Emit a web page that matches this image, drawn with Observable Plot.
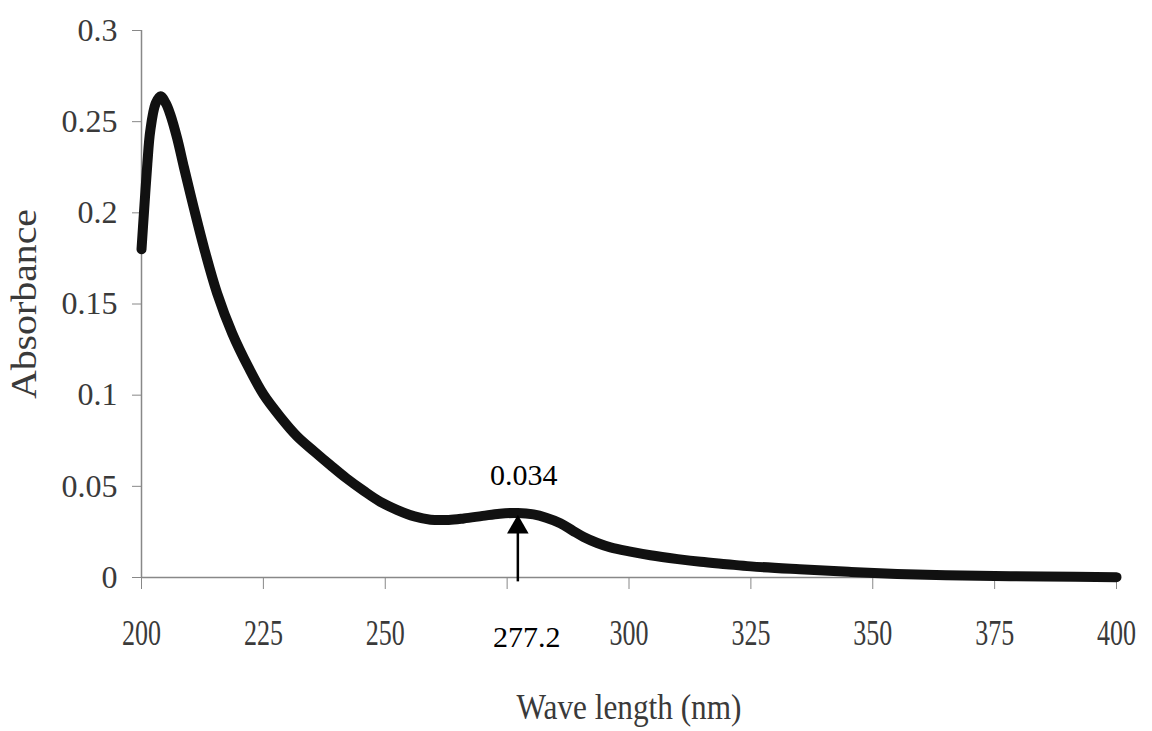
<!DOCTYPE html>
<html>
<head>
<meta charset="utf-8">
<script src="https://cdn.jsdelivr.net/npm/d3@7"></script>
<script src="https://cdn.jsdelivr.net/npm/@observablehq/plot@0.6"></script>
<style>
  html, body { margin: 0; padding: 0; background: #fff; }
  #chart svg { display: block; }
</style>
</head>
<body>
<div id="chart"></div>
<script>
// Wavelength (nm) and absorbance
const wavelength = [200, 200.5, 201.2, 201.8, 202.9, 203.9, 205.0, 205.9, 207.3, 208.7, 210.7, 212.8, 215.5, 218.6, 222, 225, 228.5, 231.9, 235.5, 238.8, 242, 245.6, 249, 252.5, 256, 259.3, 263, 266.1, 270, 273.5, 277.2, 280.4, 283, 285.9, 288.5, 290.7, 293.5, 296.2, 300, 304.4, 310, 314.7, 320, 325, 335, 345, 355, 365, 375, 385, 400];
const absorbance = [0.180, 0.200, 0.227, 0.245, 0.260, 0.264, 0.260, 0.254, 0.241, 0.225, 0.203, 0.181, 0.156, 0.134, 0.115, 0.1005, 0.088, 0.0775, 0.069, 0.0615, 0.0545, 0.0475, 0.0415, 0.037, 0.0335, 0.0317, 0.0316, 0.0324, 0.0338, 0.035, 0.0354, 0.0346, 0.0328, 0.0298, 0.0256, 0.0222, 0.0189, 0.0165, 0.0143, 0.0122, 0.0101, 0.0086, 0.0073, 0.0061, 0.0045, 0.0031, 0.0019, 0.0012, 0.0008, 0.0005, 0.0002];

const xTicks = [200, 225, 250, 275, 300, 325, 350, 375, 400];
const yTicks = [0, 0.05, 0.1, 0.15, 0.2, 0.25, 0.3];
const hiddenXTick = [275];

// Annotation of the secondary peak
const peakWavelength = [277.2];
const peakAbsorbanceLabel = ["0.034"];
const peakWavelengthLabel = ["277.2"];
const arrowFrom = [-0.0024];
const arrowTo = [0.0265];
const labelAbove = [0.056];

const data = wavelength.map((w, i) => ({w, a: absorbance[i]}));

const serif = "'Liberation Serif', 'Times New Roman', serif";

const chart = Plot.plot({
  width: 1152,
  height: 731,
  marginLeft: 141,
  marginRight: 36,
  marginTop: 30,
  marginBottom: 154,
  style: {fontFamily: serif, background: "#fff", color: "#333"},
  x: {domain: [200, 400]},
  y: {domain: [0, 0.3]},
  marks: [
    Plot.ruleY([0], {stroke: "#888", strokeWidth: 1.5}),
    Plot.ruleX([200], {stroke: "#888", strokeWidth: 1.5}),
    Plot.axisY({
      ticks: yTicks, tickSize: 9, tickPadding: 15, stroke: "#888",
      tickFormat: d => String(d), fontSize: 32, label: null, fill: "#3a3a3a", fontFamily: serif
    }),
    Plot.axisX({
      ticks: xTicks, tickSize: 12, tickPadding: 30, stroke: "#888",
      tickFormat: d => hiddenXTick.includes(d) ? "" : String(d), fontSize: 36, label: null, fill: "#3a3a3a", fontFamily: serif
    }),
    Plot.line(data, {x: "w", y: "a", stroke: "#111", strokeWidth: 10, curve: "catmull-rom", strokeLinecap: "round", strokeLinejoin: "round"}),
    Plot.ruleX(peakWavelength, {x: d => d, y1: arrowFrom, y2: arrowTo, stroke: "#000", strokeWidth: 2.5}),
    Plot.dot(peakWavelength, {x: d => d, y: arrowTo, symbol: "triangle", r: 8, fill: "#000", stroke: "none", dy: -2}),
    Plot.text(peakAbsorbanceLabel, {x: peakWavelength, y: labelAbove, text: d => d, fontSize: 30, fill: "#000", dx: 6, fontFamily: serif}),
    Plot.text(peakWavelengthLabel, {x: peakWavelength, y: [0], text: d => d, fontSize: 30, fill: "#000", dy: 60, dx: 9, fontFamily: serif}),
    Plot.text(["Absorbance"], {frameAnchor: "left", textAnchor: "middle", text: d => d, rotate: -90, dx: -117, fontSize: 36, fill: "#3a3a3a", fontFamily: serif}),
    Plot.text(["Wave length (nm)"], {frameAnchor: "bottom", textAnchor: "middle", text: d => d, dy: 141, fontSize: 36, fill: "#3a3a3a", fontFamily: serif})
  ]
});

// The reference typography is horizontally condensed; fit label widths
const svg = d3.select(chart);
svg.selectAll("g[aria-label='x-axis tick label'] text").each(function() {
  const t = d3.select(this);
  const s = t.text();
  if (s) t.attr("textLength", 13 * s.length).attr("lengthAdjust", "spacingAndGlyphs");
});
svg.selectAll("text").each(function() {
  const t = d3.select(this);
  if (t.text() === "Absorbance") t.attr("textLength", 190).attr("lengthAdjust", "spacingAndGlyphs");
  if (t.text() === "Wave length (nm)") t.attr("textLength", 225).attr("lengthAdjust", "spacingAndGlyphs");
});

document.getElementById("chart").appendChild(chart);
</script>
</body>
</html>
